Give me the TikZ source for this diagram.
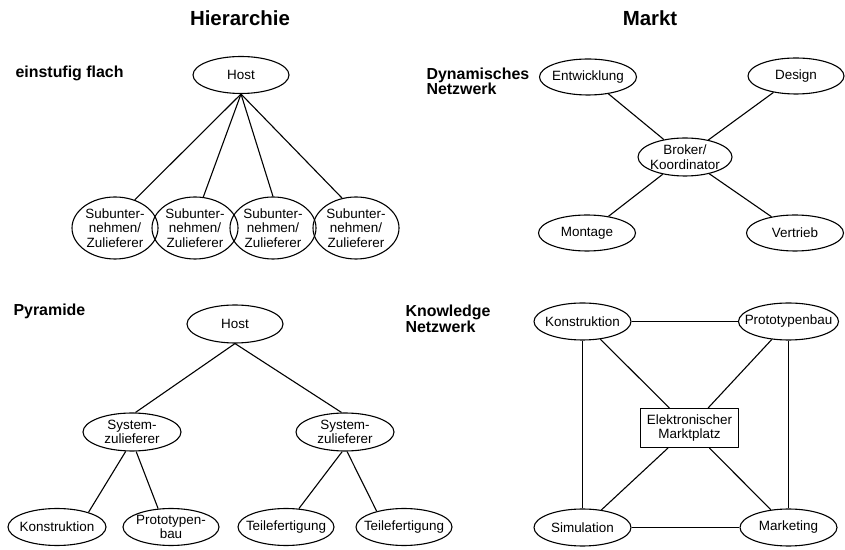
\documentclass[tikz,border=0pt]{standalone}
\usepackage{fontspec}
\setmainfont{Liberation Sans}
\usepackage{tikz}
\usetikzlibrary{shapes.geometric}

\begin{document}
\begin{tikzpicture}[line join=bevel,
  knoten/.style={draw,ellipse,inner xsep=-9bp,inner ysep=-3bp,align=center,
    font=\fontsize{13.5}{14.5}\selectfont},
  marktbox/.style={draw,rectangle,inner sep=0pt,minimum width=98bp,minimum height=39bp,
    align=center,font=\fontsize{13.5}{14.5}\selectfont},
  titel/.style={font=\bfseries\fontsize{20.5}{22}\selectfont},
  rubrik/.style={anchor=north west,inner sep=0pt,align=left,
    font=\bfseries\fontsize{16}{13.5}\selectfont},
]
  \pgfsetlinewidth{1.1bp}
  \useasboundingbox (0bp,0bp) rectangle (845bp,550bp);
%%
% Titles
  \node[titel] (th) at (240bp,532bp) {Hierarchie};
  \node[titel] (tm) at (650bp,532bp) {Markt};
  \node[rubrik,anchor=west] (r1) at (15bp,477bp) {einstufig flach};
  \node[rubrik] (r2) at (426bp,483bp) {Dynamisches\\Netzwerk};
  \node[rubrik] (r3) at (13bp,247bp) {Pyramide};
  \node[rubrik] (r4) at (405bp,246bp) {Knowledge\\Netzwerk};
%
% Nodes: einstufig flach
  \node[knoten,minimum width=96bp,minimum height=37bp] (host1) at (241bp,475bp) {Host};
  \node[knoten,minimum width=86bp,minimum height=62bp] (sub1) at (115bp,322bp) {Subunter-\\nehmen/\\Zulieferer};
  \node[knoten,minimum width=86bp,minimum height=62bp] (sub2) at (195bp,322bp) {Subunter-\\nehmen/\\Zulieferer};
  \node[knoten,minimum width=86bp,minimum height=62bp] (sub3) at (273bp,322bp) {Subunter-\\nehmen/\\Zulieferer};
  \node[knoten,minimum width=86bp,minimum height=62bp] (sub4) at (356bp,322bp) {Subunter-\\nehmen/\\Zulieferer};
  % Edges: host1 -- sub
  \draw (host1.south) -- (sub1.55);
  \draw (host1.south) -- (sub2.75);
  \draw (host1.south) -- (sub3.90);
  \draw (host1.south) -- (sub4.115);
%
% Nodes: Dynamisches Netzwerk
  \node[knoten,minimum width=97bp,minimum height=36bp] (entw) at (588bp,473bp) {Entwicklung};
  \node[knoten,minimum width=96bp,minimum height=36bp] (design) at (796bp,474bp) {Design};
  \node[knoten,minimum width=94bp,minimum height=38bp] (broker) at (685bp,393bp) {Broker/\\Koordinator};
  \node[knoten,minimum width=97bp,minimum height=36bp] (montage) at (587bp,317bp) {Montage};
  \node[knoten,minimum width=97bp,minimum height=36bp] (vertrieb) at (795bp,317bp) {Vertrieb};
  % Edges: broker -- *
  \draw (entw) -- (broker);
  \draw (design) -- (broker);
  \draw (broker) -- (montage);
  \draw (broker) -- (vertrieb);
%
% Nodes: Pyramide
  \node[knoten,minimum width=96bp,minimum height=38bp] (host2) at (235bp,226bp) {Host};
  \node[knoten,minimum width=98bp,minimum height=38bp] (sysl) at (132bp,118bp) {System-\\zulieferer};
  \node[knoten,minimum width=98bp,minimum height=38bp] (sysr) at (345bp,118bp) {System-\\zulieferer};
  \node[knoten,minimum width=98bp,minimum height=37bp] (konst1) at (57bp,23bp) {Konstruktion};
  \node[knoten,minimum width=96bp,minimum height=37bp] (proto1) at (171bp,23bp) {Prototypen-\\bau};
  \node[knoten,minimum width=96bp,minimum height=37bp] (teil1) at (286bp,23bp) {Teilefertigung};
  \node[knoten,minimum width=96bp,minimum height=37bp] (teil2) at (404bp,23bp) {Teilefertigung};
  % Edges: host2 -- sys, sys -- *
  \draw (host2.south) -- (sysl.80);
  \draw (host2.south) -- (sysr.100);
  \draw (sysl.-108) -- (konst1.25);
  \draw (sysl.-78) -- (proto1.125);
  \draw (sysr.-98) -- (teil1.55);
  \draw (sysr.-84) -- (teil2.150);
%
% Nodes: Knowledge Netzwerk
  \node[knoten,minimum width=97bp,minimum height=37bp] (konst2) at (582.5bp,228.5bp) {Konstruktion};
  \node[knoten,minimum width=100bp,minimum height=37bp] (proto2) at (788.5bp,228.5bp) {Prototypenbau};
  \node[marktbox] (platz) at (689.5bp,122bp) {Elektronischer\\Marktplatz};
  \node[knoten,minimum width=97bp,minimum height=37bp] (simu) at (582.5bp,22.5bp) {Simulation};
  \node[knoten,minimum width=97bp,minimum height=37bp] (market) at (788.5bp,22.5bp) {Marketing};
  % Edges: ring and platz -- *
  \draw (konst2) -- (proto2);
  \draw (proto2) -- (market);
  \draw (market) -- (simu);
  \draw (simu) -- (konst2);
  \draw (konst2) -- (platz);
  \draw (proto2) -- (platz);
  \draw (platz) -- (simu);
  \draw (platz) -- (market);
%
\end{tikzpicture}
\end{document}
